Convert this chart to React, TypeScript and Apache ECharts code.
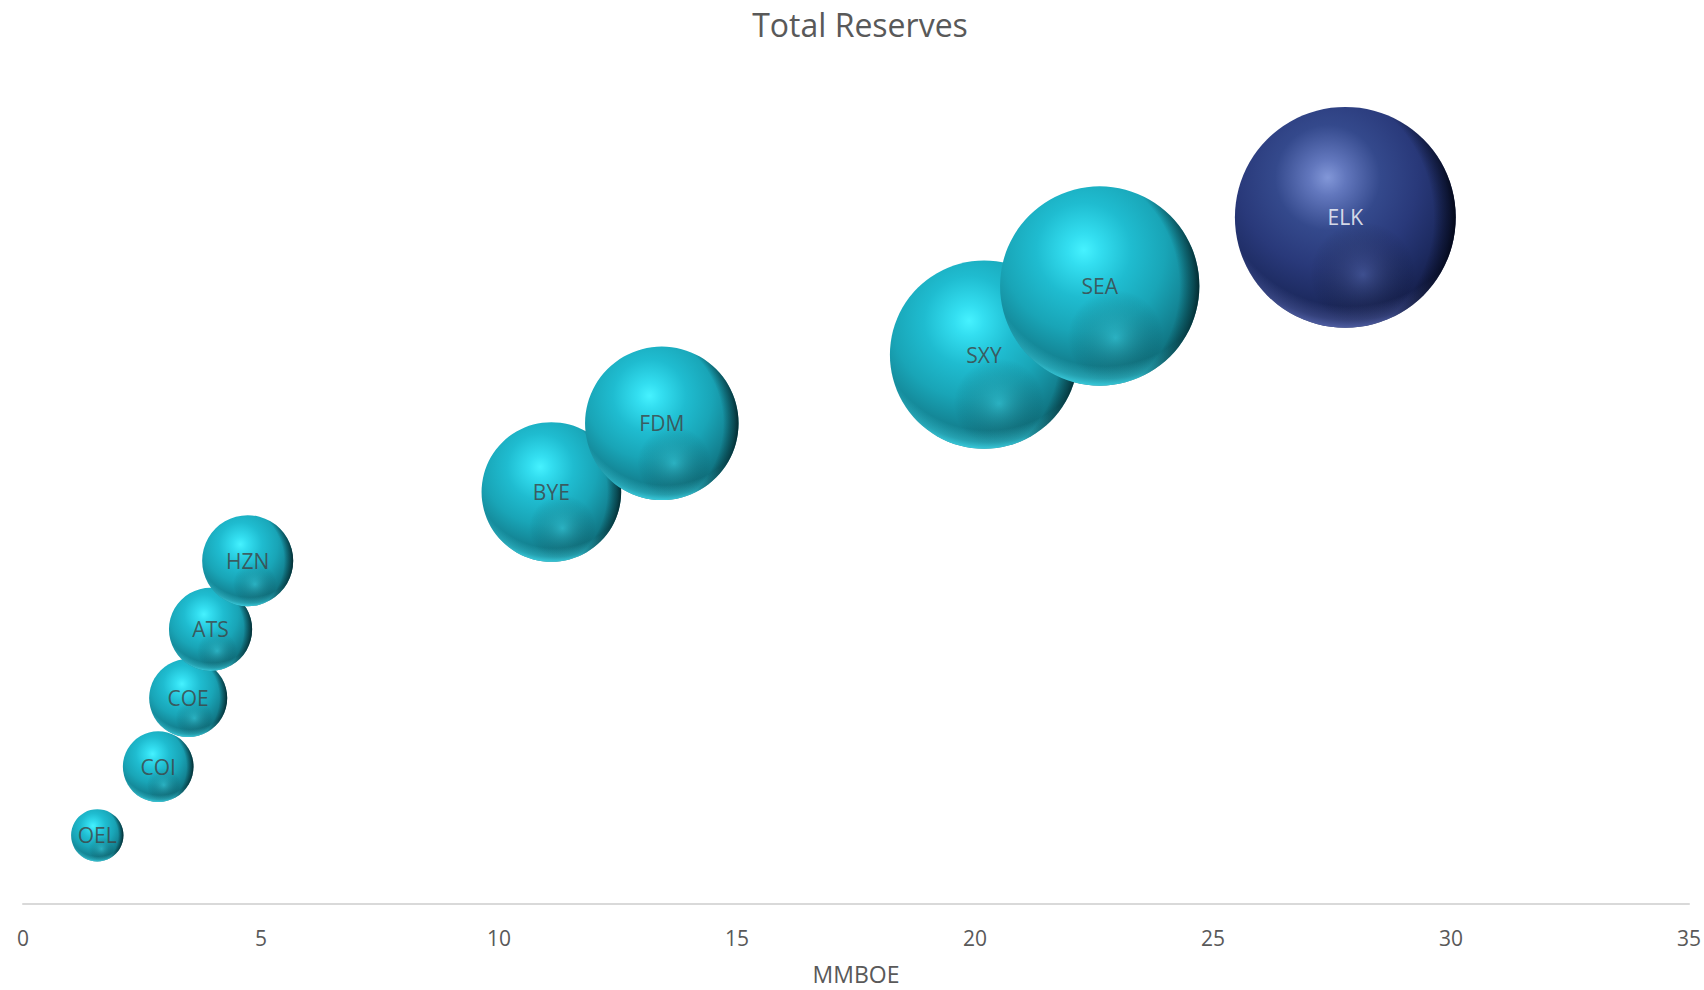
import React, { useEffect, useRef } from "react";
import * as echarts from "echarts";

// Tickers, total reserves (MMBOE) and vertical rank of each company
const TICKERS = ["OEL", "COI", "COE", "ATS", "HZN", "BYE", "FDM", "SXY", "SEA", "ELK"];
const RESERVES = [1.56, 2.84, 3.47, 3.94, 4.72, 11.1, 13.42, 20.19, 22.62, 27.78];
const RANK = [1, 2, 3, 4, 5, 6, 7, 8, 9, 10];
const HIGHLIGHTED = ["ELK"];

const X_TICKS = { min: 0, max: 35, interval: 5 };
const Y_RANGE = { min: 0, max: 12 };

// bubble diameter in px per sqrt(MMBOE): bubble area tracks reserves
const BUBBLE_SCALE = 41.9;
const FONT = "'Open Sans', 'Noto Sans', sans-serif";

type Palette = {
  stops: string[];
  rim: string;
  glow: string;
  dark: string;
  label: string;
};

const CYAN: Palette = {
  stops: ["#46f2ff", "#33def0", "#1fbcd0", "#19a5b7", "#148797", "#0e6a76"],
  rim: "63,216,234",
  glow: "rgba(80,225,240,0.35)",
  dark: "3,38,43",
  label: "#404040",
};

const NAVY: Palette = {
  stops: ["#8297d8", "#6277bd", "#34498c", "#29397a", "#1e2c63", "#141d48"],
  rim: "88,104,176",
  glow: "rgba(105,125,195,0.38)",
  dark: "2,6,20",
  label: "#ffffff",
};

const BASE_OFFSETS = [0, 0.12, 0.35, 0.6, 0.8, 1];

const paletteFor = (i: number): Palette =>
  HIGHLIGHTED.includes(TICKERS[i]) ? NAVY : CYAN;

const bubbleData = TICKERS.map((name, i) => ({
  name,
  value: [RESERVES[i], RANK[i], RESERVES[i]],
}));

const labelData = TICKERS.map((name, i) => ({
  name,
  value: [RESERVES[i], RANK[i]],
  label: { color: paletteFor(i).label },
}));

// Draws one shaded sphere per data item
const renderSphere = (params: any, api: any) => {
  const [cx, cy] = api.coord([api.value(0), api.value(1)]);
  const r = (Math.sqrt(api.value(2)) * BUBBLE_SCALE) / 2;
  const p = paletteFor(params.dataIndex);
  const shape = { cx, cy, r };

  return {
    type: "group",
    children: [
      {
        // body with the main highlight up-left
        type: "circle",
        shape,
        style: {
          fill: new echarts.graphic.RadialGradient(
            0.42,
            0.32,
            0.68,
            p.stops.map((color, k) => ({ offset: BASE_OFFSETS[k], color }))
          ),
        },
      },
      {
        // soft secondary reflection low on the sphere
        type: "circle",
        shape,
        style: {
          fill: new echarts.graphic.RadialGradient(0.58, 0.76, 0.24, [
            { offset: 0, color: p.glow },
            { offset: 1, color: "rgba(0,0,0,0)" },
          ]),
        },
      },
      {
        // light rim along the lower edge
        type: "circle",
        shape,
        style: {
          fill: new echarts.graphic.RadialGradient(0.52, 0.3, 0.7, [
            { offset: 0, color: `rgba(${p.rim},0)` },
            { offset: 0.86, color: `rgba(${p.rim},0)` },
            { offset: 0.95, color: `rgba(${p.rim},0.45)` },
            { offset: 1, color: `rgba(${p.rim},0.85)` },
          ]),
        },
      },
      {
        // dark crescent on the right edge
        type: "circle",
        shape,
        style: {
          fill: new echarts.graphic.RadialGradient(0.28, 0.5, 0.72, [
            { offset: 0, color: `rgba(${p.dark},0)` },
            { offset: 0.86, color: `rgba(${p.dark},0)` },
            { offset: 0.96, color: `rgba(${p.dark},0.6)` },
            { offset: 1, color: `rgba(${p.dark},0.92)` },
          ]),
        },
      },
    ],
  };
};

export default function App() {
  const ref = useRef<HTMLDivElement>(null);

  useEffect(() => {
    if (!ref.current) return;
    const chart = echarts.init(ref.current, undefined, { renderer: "svg" });
    chart.setOption({
      animation: false,
      backgroundColor: "#ffffff",
      title: {
        text: "Total Reserves",
        left: 860,
        top: 8,
        textAlign: "center",
        padding: 0,
        textStyle: {
          fontFamily: FONT,
          fontSize: 32,
          fontWeight: "normal",
          color: "#595959",
        },
      },
      grid: { left: 23, right: 14, top: 80, bottom: 78, containLabel: false },
      xAxis: {
        type: "value",
        min: X_TICKS.min,
        max: X_TICKS.max,
        interval: X_TICKS.interval,
        name: "MMBOE",
        nameLocation: "middle",
        nameGap: 58,
        nameTextStyle: { fontFamily: FONT, fontSize: 23, color: "#595959" },
        axisLine: { show: true, lineStyle: { color: "#d9d9d9", width: 2 } },
        axisTick: { show: false },
        splitLine: { show: false },
        axisLabel: {
          margin: 23,
          fontFamily: FONT,
          fontSize: 21,
          color: "#595959",
        },
      },
      yAxis: {
        type: "value",
        min: Y_RANGE.min,
        max: Y_RANGE.max,
        show: false,
        splitLine: { show: false },
      },
      series: [
        {
          type: "custom",
          name: "Total Reserves",
          data: bubbleData,
          clip: false,
          renderItem: renderSphere,
          encode: { x: 0, y: 1 },
          z: 2,
        },
        {
          type: "scatter",
          name: "labels",
          data: labelData,
          symbolSize: 1,
          itemStyle: { color: "rgba(0,0,0,0)" },
          silent: true,
          z: 5,
          label: {
            show: true,
            position: "inside",
            formatter: (p: any) => p.name,
            fontFamily: FONT,
            fontSize: 21,
          },
        },
      ],
    });
    return () => chart.dispose();
  }, []);

  return (
    <div
      ref={ref}
      style={{ position: "fixed", left: 0, top: 0, width: 1704, height: 990 }}
    />
  );
}
